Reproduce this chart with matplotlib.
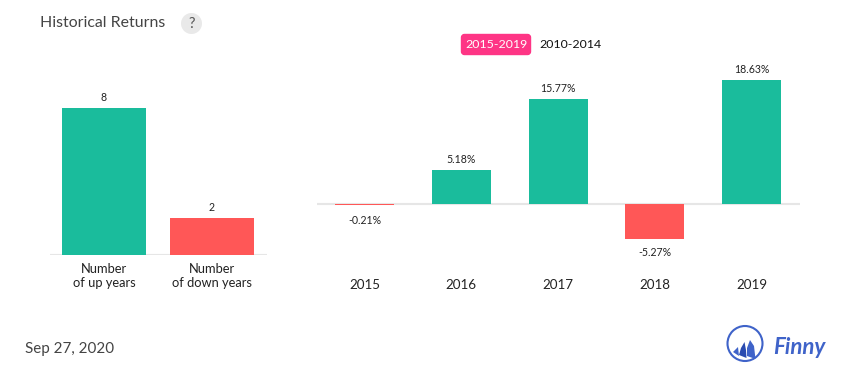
import matplotlib
matplotlib.use("Agg")
import matplotlib.pyplot as plt
from matplotlib.patches import Circle, FancyBboxPatch, Polygon

plt.rcParams['font.family'] = ['Lato', 'DejaVu Sans']

# data
count_labels = ["Number\nof up years", "Number\nof down years"]
count_values = [8, 2]
years = ["2015", "2016", "2017", "2018", "2019"]
returns = [-0.21, 5.18, 15.77, -5.27, 18.63]

GREEN = "#1abc9c"
RED = "#ff5757"
GRID = "#e6e6e6"
W, H = 855, 382


def box(x0, x1, ytop, ybot):
    # pixel box -> figure fraction
    return [x0 / W, 1 - ybot / H, (x1 - x0) / W, (ybot - ytop) / H]


def clean(ax):
    for s in ax.spines.values():
        s.set_visible(False)
    ax.set_xticks([])
    ax.set_yticks([])
    ax.patch.set_alpha(0)


fig = plt.figure(figsize=(W / 100, H / 100), dpi=100, facecolor="white")

# left chart
ax1 = fig.add_axes(box(50, 267, 80, 255))
clean(ax1)
ax1.set_xlim(-0.5, 1.509)
ax1.set_ylim(0, 175 / 18.36)
pos = list(range(len(count_values)))
ax1.bar(pos, count_values, width=0.778, color=[GREEN, RED], zorder=2)
ax1.axhline(0, color=GRID, lw=1.5, zorder=1)
for p, v, lab in zip(pos, count_values, count_labels):
    ax1.annotate(str(v), (p, v), xytext=(0, 3.6), textcoords="offset points",
                 ha="center", va="bottom", fontsize=7.6, color="#222222")
    ax1.annotate(lab, (p, 0), xytext=(0, -5.5), textcoords="offset points",
                 ha="center", va="top", fontsize=9.3, color="#222222", linespacing=1.22)

# right chart
ax2 = fig.add_axes(box(317, 800, 60, 260))
clean(ax2)
ax2.set_xlim(-0.491, 4.501)
ax2.set_ylim(-56 / 6.66, 144 / 6.66)
pos = list(range(len(returns)))
ax2.bar(pos, returns, width=0.61, color=[GREEN if r > 0 else RED for r in returns], zorder=2)
ax2.axhline(0, color=GRID, lw=1.5, zorder=1)
for p, v, y in zip(pos, returns, years):
    if v > 0:
        off, va = 3.6, "bottom"
    else:
        off, va = (-7.2 if abs(v) < 1 else -5.8), "top"
    ax2.annotate(f"{v:.2f}%", (p, v), xytext=(0, off), textcoords="offset points",
                 ha="center", va=va, fontsize=7.6, color="#222222")
    ax2.annotate(y, (p, 0), xytext=(0, -53.7), textcoords="offset points",
                 ha="center", va="top", fontsize=9.6, color="#222222")

# overlay in pixel coords for the header, button and logo
ov = fig.add_axes([0, 0, 1, 1])
clean(ov)
ov.set_xlim(0, W)
ov.set_ylim(H, 0)

ov.text(40, 23, "Historical Returns", fontsize=11.4, color="#444444", va="center")
ov.add_patch(Circle((191.5, 23.5), 10.5, color="#e9e9e9", lw=0))
ov.text(191.5, 23.5, "?", fontsize=10.5, color="#555555", ha="center", va="center")

ov.add_patch(FancyBboxPatch((461.5, 34.5), 69, 20, boxstyle="round,pad=0,rounding_size=3",
                            fc="#fe3585", ec="#fe3585", lw=1))
ov.text(496, 44.5, "2015-2019", fontsize=8.9, color="white", ha="center", va="center")
ov.text(570, 44.5, "2010-2014", fontsize=8.9, color="#111111", ha="center", va="center")

ov.text(25, 349, "Sep 27, 2020", fontsize=10.9, color="#444444", va="center")

# logo
BLUE = "#3f63c9"
DARK = "#2a4bb0"
ov.add_patch(Circle((745, 343.5), 17.5, fc="none", ec=BLUE, lw=1.5))
ov.add_patch(Polygon([(750, 340), (754, 346), (755.5, 359), (747, 356), (747, 348)], fc=BLUE, lw=0))
ov.add_patch(Polygon([(744.5, 342), (746, 350), (746.5, 358), (739, 355), (741, 348)], fc=DARK, lw=0))
ov.add_patch(Polygon([(738, 347), (739, 356), (733, 352)], fc=BLUE, lw=0))
ov.text(773, 347, "Finny", fontsize=16, color=BLUE, style="italic", weight="bold", va="center")

fig.savefig("out.png", dpi=100)
